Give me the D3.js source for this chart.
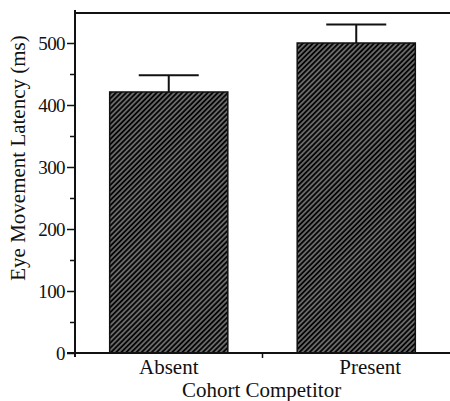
<!DOCTYPE html>
<html>
<head>
<meta charset="utf-8">
<script src="https://cdn.jsdelivr.net/npm/d3@7"></script>
<style>
  html, body { margin: 0; padding: 0; background: #fff; }
  svg { display: block; }
  text { font-family: "Liberation Serif", "Times New Roman", serif; fill: #111; }
</style>
</head>
<body>
<svg id="chart" width="450" height="401"></svg>
<script>
// Mean eye movement latency by cohort competitor condition
const categories = ["Absent", "Present"];
const latency = [421, 500];
const errorUpper = [448, 530];
const majorTicks = [0, 100, 200, 300, 400, 500];
const minorTicks = [50, 150, 250, 350, 450];
const yMax = 550;

const svg = d3.select("#chart");
const plotLeft = 75, plotRight = 450, plotBottom = 353, plotTop = 12;

const x = d3.scaleBand().domain(categories).range([plotLeft, plotRight]).padding(0);
const y = d3.scaleLinear().domain([0, yMax]).range([plotBottom, plotTop]);

// diagonal hatch fill for the bars
const defs = svg.append("defs");
const pat = defs.append("pattern")
  .attr("id", "hatch")
  .attr("patternUnits", "userSpaceOnUse")
  .attr("width", 3.6).attr("height", 10)
  .attr("patternTransform", "rotate(45)");
pat.append("rect").attr("width", 3.6).attr("height", 10).attr("fill", "#060606");
pat.append("line")
  .attr("x1", 1.8).attr("x2", 1.8).attr("y1", 0).attr("y2", 10)
  .attr("stroke", "#ffffff").attr("stroke-width", 0.75);

const barFrac = 0.63;
const bw = x.bandwidth() * barFrac;
const bx = d => x(d) + (x.bandwidth() - bw) / 2;
const cx = d => x(d) + x.bandwidth() / 2;

// bars
svg.append("g").selectAll("rect")
  .data(categories)
  .join("rect")
  .attr("x", d => bx(d))
  .attr("y", (d, i) => y(latency[i]))
  .attr("width", bw)
  .attr("height", (d, i) => y(0) - y(latency[i]))
  .attr("fill", "url(#hatch)")
  .attr("stroke", "#111")
  .attr("stroke-width", 1.5);

// error bars (upper only)
const capW = 60;
const eb = svg.append("g").attr("stroke", "#111").attr("stroke-width", 2);
categories.forEach((c, i) => {
  eb.append("line")
    .attr("x1", cx(c)).attr("x2", cx(c))
    .attr("y1", y(latency[i])).attr("y2", y(errorUpper[i]));
  eb.append("line")
    .attr("x1", cx(c) - capW / 2).attr("x2", cx(c) + capW / 2)
    .attr("y1", y(errorUpper[i])).attr("y2", y(errorUpper[i]));
});

// y axis
const yAxis = d3.axisLeft(y).tickValues(majorTicks).tickSize(8).tickSizeOuter(0).tickPadding(2);
const gy = svg.append("g").attr("transform", `translate(${plotLeft},0)`).call(yAxis);
gy.select(".domain").attr("stroke", "#111").attr("stroke-width", 2)
  .attr("d", `M0,${y(0) + 4}V${y(yMax) - 2}`);
gy.selectAll(".tick line").attr("stroke", "#111").attr("stroke-width", 1.5);
gy.selectAll(".tick text").attr("font-size", 19).style("font-family", "Liberation Serif, serif").attr("fill", "#111").attr("dy", "0.34em").attr("letter-spacing", -0.6);

const gyMinor = svg.append("g").attr("transform", `translate(${plotLeft},0)`)
  .call(d3.axisLeft(y).tickValues(minorTicks).tickSize(5).tickFormat(""));
gyMinor.select(".domain").remove();
gyMinor.selectAll(".tick line").attr("stroke", "#111").attr("stroke-width", 1.5);

// x axis
const xAxis = d3.axisBottom(x).tickSize(0);
const gx = svg.append("g").attr("transform", `translate(0,${plotBottom})`).call(xAxis);
gx.select(".domain").attr("stroke", "#111").attr("stroke-width", 2)
  .attr("d", `M${plotLeft - 8},0H${plotRight}`);
gx.selectAll(".tick text").attr("font-size", 21).style("font-family", "Liberation Serif, serif").attr("fill", "#111")
  .attr("y", 21).attr("dy", 0);
gx.selectAll(".tick text").filter(d => d === "Present").attr("dx", 14);

// divider tick between categories
svg.append("line")
  .attr("x1", x("Present")).attr("x2", x("Present"))
  .attr("y1", plotBottom).attr("y2", plotBottom + 5)
  .attr("stroke", "#111").attr("stroke-width", 1.5);

// top frame line
svg.append("line")
  .attr("x1", plotLeft).attr("x2", plotRight)
  .attr("y1", y(yMax) + 1).attr("y2", y(yMax) + 1)
  .attr("stroke", "#111").attr("stroke-width", 2);

// axis titles
svg.append("text")
  .attr("x", (plotLeft + plotRight) / 2 - 1).attr("y", 397)
  .attr("text-anchor", "middle")
  .attr("font-size", 21)
  .text("Cohort Competitor");

svg.append("text")
  .attr("transform", "translate(25,158) rotate(-90)")
  .attr("text-anchor", "middle")
  .attr("font-size", 21)
  .text("Eye Movement Latency (ms)");
</script>
</body>
</html>
